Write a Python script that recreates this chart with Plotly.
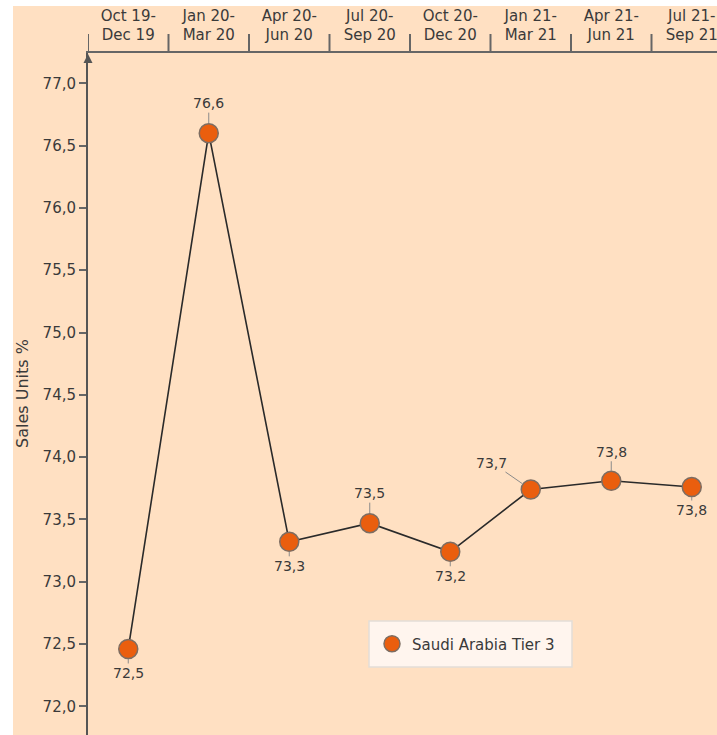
import plotly.graph_objects as go

categories = ["Oct 19-<br>Dec 19", "Jan 20-<br>Mar 20", "Apr 20-<br>Jun 20", "Jul 20-<br>Sep 20",
              "Oct 20-<br>Dec 20", "Jan 21-<br>Mar 21", "Apr 21-<br>Jun 21", "Jul 21-<br>Sep 21"]
values = [72.46, 76.60, 73.32, 73.47, 73.24, 73.74, 73.81, 73.76]
series_name = "Saudi Arabia Tier 3"
y_tickvals = [72.0, 72.5, 73.0, 73.5, 74.0, 74.5, 75.0, 75.5, 76.0, 76.5, 77.0]
# label offsets (px) relative to each point: (dx, dy)
label_offsets = [(0, 24), (0, -30), (0, 24), (0, -30), (0, 24), (-39, -27), (0, -29), (0, 23)]

W, H = 717, 735
ML, MT = 88, 53
PW, PH = W - ML, H - MT

FONT = "DejaVu Sans"
PEACH = "#FFE0C2"
TXT = "#3a3a3a"
ORANGE = "#EA5E0E"

xs = list(range(len(categories)))

fig = go.Figure()
fig.add_trace(go.Scatter(
    x=xs, y=values, mode="lines+markers", showlegend=False,
    line=dict(color="#2a2a2a", width=1.6),
    marker=dict(size=19, color=ORANGE, line=dict(color="#7d6d62", width=1.5)),
    cliponaxis=False,
))
fig.add_trace(go.Scatter(
    x=[None], y=[None], mode="markers", name=series_name,
    marker=dict(size=19, color=ORANGE, line=dict(color="#7d6d62", width=1.5)),
))

def px_x(p):
    return (p - ML) / PW

def px_y(p):
    return 1 - (p - MT) / PH

annotations = []
for i, v in enumerate(values):
    dx, dy = label_offsets[i]
    annotations.append(dict(
        x=xs[i], y=v, xref="x", yref="y", text=f"{v:.1f}".replace(".", ","),
        showarrow=True, arrowhead=0, arrowwidth=1, arrowcolor="#8a8a8a",
        ax=dx, ay=dy, standoff=10, font=dict(family=FONT, size=14, color=TXT),
    ))
annotations.append(dict(
    x=px_x(22), y=px_y(394), xref="paper", yref="paper", text="Sales Units %",
    textangle=-90, showarrow=False, font=dict(family=FONT, size=16, color=TXT),
    xanchor="center", yanchor="middle",
))

shapes = [dict(type="rect", xref="paper", yref="paper", x0=px_x(13), x1=1.01,
               y0=-0.01, y1=px_y(6), fillcolor=PEACH, line=dict(width=0), layer="below")]
# legend box
shapes.append(dict(type="rect", xref="paper", yref="paper", x0=px_x(369), x1=px_x(572),
                   y0=px_y(667), y1=px_y(621), fillcolor="#FFF5EE",
                   line=dict(color="#E3DDD7", width=1.5), layer="below"))
for i in range(len(categories) + 1):
    shapes.append(dict(type="line", xref="x", yref="paper", x0=i - 0.5, x1=i - 0.5,
                       y0=1, y1=px_y(34), line=dict(color="#666666", width=2)))
# arrow head on the y axis
ah = 4.5 / PW
shapes.append(dict(type="path", xref="paper", yref="paper",
                   path=f"M 0,{px_y(54)} L {-ah},{px_y(63)} L {ah},{px_y(63)} Z",
                   fillcolor="#555555", line=dict(width=0)))

fig.update_layout(
    width=W, height=H,
    margin=dict(l=ML, r=0, t=MT, b=0, autoexpand=False),
    paper_bgcolor="white", plot_bgcolor="rgba(0,0,0,0)",
    font=dict(family=FONT, size=15, color=TXT),
    separators=",.",
    xaxis=dict(side="top", tickmode="array", tickvals=xs, ticktext=categories,
               range=[-0.5, -0.5 + PW / 80.5], showgrid=False, zeroline=False,
               showline=True, linecolor="#666666", linewidth=2,
               ticks="outside", ticklen=5, tickcolor="rgba(0,0,0,0)",
               ticklabeloverflow="allow",
               tickfont=dict(family=FONT, size=15, color=TXT)),
    yaxis=dict(range=[77 - (H - 83.3) / 124.6, 77 + (83.3 - MT) / 124.6],
               tickmode="array", tickvals=y_tickvals,
               ticktext=[f"{t:.1f}".replace(".", ",") for t in y_tickvals],
               showgrid=False, zeroline=False, showline=True, linecolor="#555555", linewidth=2,
               ticks="outside", ticklen=7, tickcolor="#666666", tickwidth=1.5,
               tickfont=dict(family=FONT, size=15, color=TXT)),
    legend=dict(x=px_x(372), y=px_y(644), xanchor="left", yanchor="middle",
                bgcolor="rgba(0,0,0,0)", borderwidth=0,
                font=dict(family=FONT, size=15, color=TXT)),
    annotations=annotations, shapes=shapes,
)

fig.write_html("out.html", config={"displayModeBar": False},
               post_script="document.body.style.margin='0';")
